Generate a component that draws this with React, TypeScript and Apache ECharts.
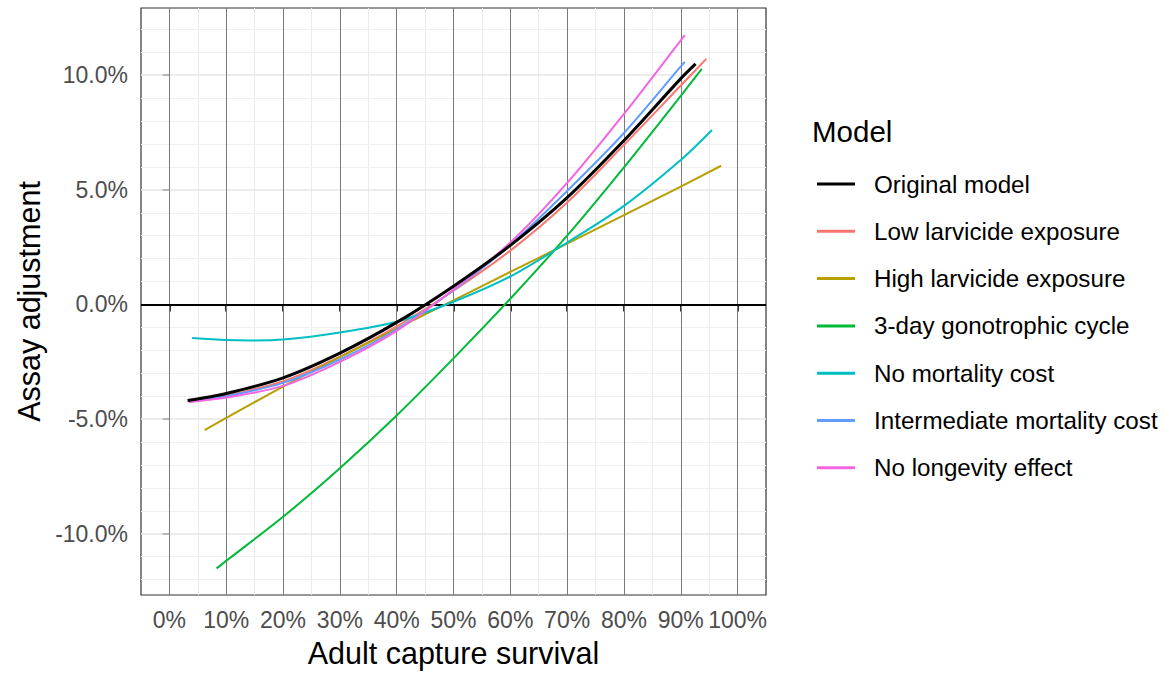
import React, { useEffect, useRef } from 'react';
import * as echarts from 'echarts';

// ---- Data (percent units) ----
const seriesNames = [
  'Original model',
  'Low larvicide exposure',
  'High larvicide exposure',
  '3-day gonotrophic cycle',
  'No mortality cost',
  'Intermediate mortality cost',
  'No longevity effect',
];
const seriesColors = ['#000000', '#F8766D', '#B79F00', '#00BA38', '#00BFC4', '#619CFF', '#F564E3'];

const originalX = [3.2, 10, 20, 30, 40, 50, 60, 70, 80, 90, 92.6];
const originalY = [-4.19, -3.88, -3.2, -2.12, -0.78, 0.8, 2.58, 4.66, 7.15, 9.85, 10.49];

const lowLarvX = [3.4, 10, 20, 30, 40, 50, 60, 70, 80, 90, 94.5];
const lowLarvY = [-4.25, -3.98, -3.35, -2.27, -0.95, 0.6, 2.35, 4.45, 6.96, 9.55, 10.71];

const highLarvX = [6.2, 10, 20, 30, 40, 50, 60, 70, 80, 90, 97.1];
const highLarvY = [-5.48, -4.95, -3.58, -2.3, -1.05, 0.18, 1.42, 2.65, 3.9, 5.14, 6.05];

const gonoX = [8.3, 10, 20, 30, 40, 50, 60, 70, 80, 90, 93.7];
const gonoY = [-11.51, -11.18, -9.26, -7.14, -4.84, -2.35, 0.25, 3.0, 5.98, 9.1, 10.28];

const noMortX = [4.0, 10, 14, 20, 30, 40, 50, 60, 70, 80, 90, 95.5];
const noMortY = [-1.46, -1.55, -1.57, -1.53, -1.22, -0.75, 0.12, 1.22, 2.7, 4.3, 6.3, 7.61];

const interMortX = [3.5, 10, 20, 30, 40, 50, 60, 70, 80, 90, 90.7];
const interMortY = [-4.22, -4.0, -3.42, -2.4, -1.08, 0.62, 2.6, 4.95, 7.48, 10.38, 10.58];

const noLongX = [3.5, 10, 20, 30, 40, 50, 60, 70, 80, 90, 90.7];
const noLongY = [-4.25, -4.06, -3.55, -2.5, -1.15, 0.65, 2.7, 5.3, 8.31, 11.52, 11.75];

const seriesXs = [originalX, lowLarvX, highLarvX, gonoX, noMortX, interMortX, noLongX];
const seriesYs = [originalY, lowLarvY, highLarvY, gonoY, noMortY, interMortY, noLongY];

const xTicks = [0, 10, 20, 30, 40, 50, 60, 70, 80, 90, 100];
const xMinorLines = [5, 15, 25, 35, 45, 55, 65, 75, 85, 95];
const yTicks = [-10, -5, 0, 5, 10];
const yMajorLines = [-10, -5, 5, 10];
const yMinorLines = [-12, -11, -9, -8, -7, -6, -4, -3, -2, -1, 1, 2, 3, 4, 6, 7, 8, 9, 11, 12];

const X_MIN = -5;
const X_MAX = 105;
const Y_MIN = -12.67;
const Y_MAX = 12.93;

const FONT = "'Liberation Sans', Arial, Helvetica, sans-serif";

export default function App() {
  const ref = useRef<HTMLDivElement>(null);

  useEffect(() => {
    if (!ref.current) return;
    const chart = echarts.init(ref.current, undefined, { renderer: 'svg' });

    const gridLines: any[] = [];
    xMinorLines.forEach((v) =>
      gridLines.push({ xAxis: v, lineStyle: { color: '#ebebeb', width: 1, type: 'solid' } })
    );
    yMinorLines.forEach((v) =>
      gridLines.push({ yAxis: v, lineStyle: { color: '#f0f0f0', width: 1, type: 'solid' } })
    );
    yMajorLines.forEach((v) =>
      gridLines.push({ yAxis: v, lineStyle: { color: '#e6e6e6', width: 1.6, type: 'solid' } })
    );
    xTicks.forEach((v) =>
      gridLines.push({ xAxis: v, lineStyle: { color: '#7a7a7a', width: 1, type: 'solid' } })
    );
    gridLines.push({ yAxis: 0, lineStyle: { color: '#000000', width: 2, type: 'solid' } });

    const dataSeries = seriesNames.map((name, i) => ({
      name,
      type: 'line',
      data: seriesXs[i].map((x, j) => [x, seriesYs[i][j]]),
      showSymbol: false,
      symbol: 'none',
      smooth: 0.3,
      lineStyle: { color: seriesColors[i], width: i === 0 ? 3 : 2 },
      itemStyle: { color: seriesColors[i] },
      emphasis: { disabled: true },
      z: i === 0 ? 4 : 3,
    }));

    const option: any = {
      animation: false,
      backgroundColor: '#ffffff',
      textStyle: { fontFamily: FONT },
      title: {
        text: 'Model',
        left: 812,
        top: 116,
        padding: 0,
        textStyle: { fontFamily: FONT, fontSize: 29.5, fontWeight: 'normal', color: '#000', lineHeight: 30 },
      },
      legend: {
        data: seriesNames,
        orient: 'vertical',
        left: 817,
        top: 172,
        padding: 0,
        icon: 'rect',
        itemWidth: 38,
        itemHeight: 3,
        itemGap: 23.3,
        selectedMode: false,
        textStyle: {
          fontFamily: FONT,
          fontSize: 24.2,
          color: '#000',
          lineHeight: 24,
          padding: [0, 0, 0, 14],
        },
      },
      grid: {
        left: 141,
        top: 8,
        width: 625,
        height: 592,
        show: true,
        borderColor: '#333333',
        borderWidth: 1.2,
        backgroundColor: 'transparent',
        containLabel: false,
      },
      xAxis: {
        type: 'value',
        min: X_MIN,
        max: X_MAX,
        name: 'Adult capture survival',
        nameLocation: 'middle',
        nameGap: 42,
        nameTextStyle: { fontFamily: FONT, fontSize: 30.5, color: '#000' },
        axisLine: { show: false },
        axisTick: {
          show: true,
          length: 7,
          lineStyle: { color: '#333333', width: 2 },
          customValues: xTicks,
        },
        axisLabel: {
          show: true,
          margin: 13,
          fontFamily: FONT,
          fontSize: 23,
          color: '#4d4d4d',
          customValues: xTicks,
          formatter: (v: number) => `${v}%`,
        },
        splitLine: { show: false },
      },
      yAxis: {
        type: 'value',
        min: Y_MIN,
        max: Y_MAX,
        name: 'Assay adjustment',
        nameLocation: 'middle',
        nameRotate: 90,
        nameGap: 95,
        nameTextStyle: { fontFamily: FONT, fontSize: 30.5, color: '#000' },
        axisLine: { show: false },
        axisTick: {
          show: true,
          length: 7,
          lineStyle: { color: '#333333', width: 2 },
          customValues: yTicks,
        },
        axisLabel: {
          show: true,
          margin: 13,
          fontFamily: FONT,
          fontSize: 23,
          color: '#4d4d4d',
          customValues: yTicks,
          formatter: (v: number) => `${v.toFixed(1)}%`,
        },
        splitLine: { show: false },
      },
      series: [
        {
          name: '__grid',
          type: 'line',
          data: [],
          z: 1,
          silent: true,
          markLine: {
            silent: true,
            symbol: ['none', 'none'],
            label: { show: false },
            emphasis: { disabled: true },
            z: 1,
            data: gridLines,
          },
        },
        ...dataSeries.slice(1),
        dataSeries[0],
      ],
    };

    chart.setOption(option);
    return () => chart.dispose();
  }, []);

  return (
    <div
      ref={ref}
      style={{ position: 'fixed', left: 0, top: 0, width: 1165, height: 673, background: '#fff' }}
    />
  );
}
